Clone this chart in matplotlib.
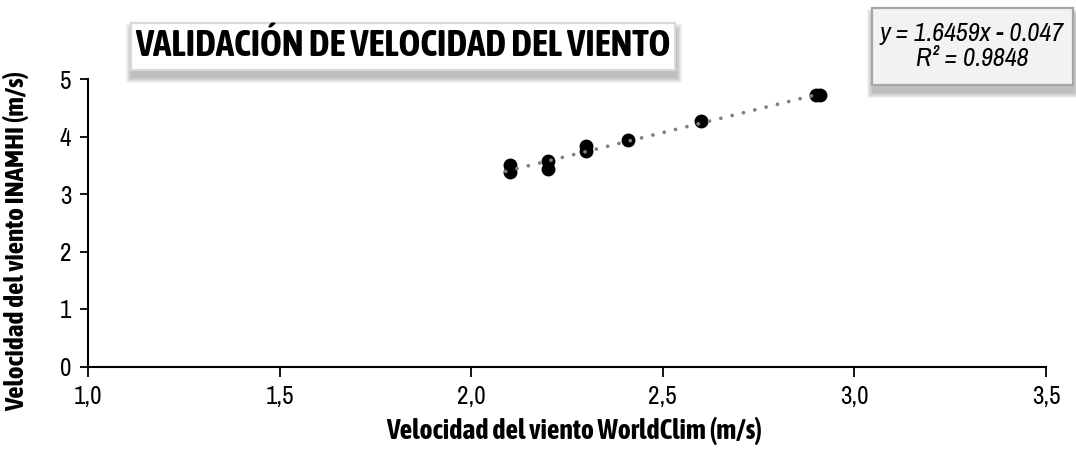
import matplotlib
matplotlib.use("Agg")
import matplotlib.pyplot as plt
from matplotlib import font_manager as fm
from matplotlib.patches import Rectangle
import numpy as np

# Wind speed pairs: WorldClim (x) vs INAMHI station (y), m/s
worldclim = [2.10, 2.10, 2.20, 2.20, 2.30, 2.30, 2.41, 2.60, 2.90, 2.91]
inamhi = [3.50, 3.38, 3.57, 3.44, 3.84, 3.74, 3.94, 4.27, 4.72, 4.72]

# Linear trend reported on the chart
slope = 1.6459
intercept = -0.047
r2 = 0.9848

x_ticks = [1.0, 1.5, 2.0, 2.5, 3.0, 3.5]
y_ticks = [0, 1, 2, 3, 4, 5]

title = "VALIDACIÓN DE VELOCIDAD DEL VIENTO"
x_label = "Velocidad del viento WorldClim (m/s)"
y_label = "Velocidad del viento INAMHI (m/s)"

WEIGHTS = {"thin": 100, "extralight": 200, "ultralight": 200, "light": 300,
           "normal": 400, "regular": 400, "book": 400, "medium": 500,
           "semibold": 600, "demibold": 600, "demi": 600, "bold": 700,
           "extrabold": 800, "heavy": 800, "ultrabold": 800, "black": 900}


def _weight_num(f):
    w = f.weight
    if isinstance(w, (int, float)):
        w = int(w)
    else:
        w = WEIGHTS.get(str(w).lower(), 400)
    low = (f.name + " " + f.fname).lower()
    for key, val in (("extrabold", 800), ("black", 900), ("semibold", 600),
                     ("extralight", 200), ("light", 300), ("medium", 500),
                     ("thin", 100)):
        if key in low:
            return val
    return w


def _width_rank(f):
    low = (f.name + " " + f.fname + " " + str(f.stretch)).lower()
    if "semicondensed" in low or "semi-condensed" in low:
        return 1
    if "extracondensed" in low or "extra-condensed" in low or "ultra" in low:
        return 3
    if "narrow" in low or "condensed" in low:
        return 0
    return None


def narrow_font(bold=False, italic=False, size=None):
    """Pick a narrow sans face (closest to a regular condensed cut) if installed."""
    want = 700 if bold else 400
    best, best_key = None, None
    for f in fm.fontManager.ttflist:
        rank = _width_rank(f)
        if rank is None or "mono" in f.name.lower() or "serif" in f.name.lower():
            continue
        it = f.style in ("italic", "oblique")
        if it != italic:
            continue
        key = (rank, abs(_weight_num(f) - want),
               0 if "Liberation" in f.name else 1, f.name)
        if best_key is None or key < best_key:
            best, best_key = f, key
    if best is not None:
        fp = fm.FontProperties(fname=best.fname)
    else:
        fp = fm.FontProperties(family="DejaVu Sans",
                               weight="bold" if bold else "normal",
                               style="italic" if italic else "normal")
    if size:
        fp.set_size(size)
    return fp


W, H = 1076, 449
fig = plt.figure(figsize=(W / 100, H / 100), dpi=100)
ax = fig.add_axes([88 / W, 1 - 366.5 / H, (1046 - 88) / W, (366.5 - 79) / H])

ax.scatter(worldclim, inamhi, s=100, color="black", zorder=3, linewidths=0)

xs = np.array([min(worldclim) - 0.01, max(worldclim)])
ax.plot(xs, slope * xs + intercept, color="#808080", lw=2.7,
        linestyle=(0, (0.01, 3.1)), dash_capstyle="round", zorder=4)

tick_fp = narrow_font(size=18)
ax.set_xlim(1.0, 3.5)
ax.set_ylim(0, 5)
ax.set_xticks(x_ticks, labels=[f"{v:.1f}".replace(".", ",") for v in x_ticks],
              fontproperties=tick_fp)
ax.set_yticks(y_ticks, labels=[str(v) for v in y_ticks], fontproperties=tick_fp)
ax.tick_params(direction="out", length=6, width=1.3, color="black")
ax.tick_params(axis="x", pad=6, length=7)
ax.tick_params(axis="y", pad=6)
for side in ("top", "right"):
    ax.spines[side].set_visible(False)
for side in ("left", "bottom"):
    ax.spines[side].set_linewidth(1.5)

bold_n = narrow_font(bold=True)
ital_n = narrow_font(italic=True)

xl = ax.set_xlabel(x_label, fontproperties=bold_n)
yl = ax.set_ylabel(y_label, fontproperties=bold_n)
ax.xaxis.set_label_coords((574.5 - 88) / 958, (366.5 - 417) / 287.5)
ax.yaxis.set_label_coords((29 - 88) / 958, (366.5 - 241) / 287.5)


def px_box(x0, y0, x1, y1, face, edge):
    """Boxed label with a soft drop shadow, given in pixel coords from top-left."""
    w, h = (x1 - x0) / W, (y1 - y0) / H
    for i in range(6):
        grow = (6 - i) * 1.0
        fig.patches.append(Rectangle(
            ((x0 + 1 - grow) / W, 1 - (y1 + 7 + grow) / H),
            w + 2 * grow / W, h + 2 * grow / H,
            transform=fig.transFigure, facecolor="#5f5f5f", alpha=0.08,
            edgecolor="none", zorder=1))
    fig.patches.append(Rectangle((x0 / W, 1 - y1 / H), w, h,
                                 transform=fig.transFigure, facecolor=face,
                                 edgecolor=edge, linewidth=1.6, zorder=2))


px_box(131, 23, 675, 70, "white", "#d9d9d9")
tt = fig.text(403 / W, 1 - 46.5 / H, title, ha="center", va="center",
              fontproperties=bold_n, zorder=5)

px_box(872, 8, 1073, 85, "#f2f2f2", "#a6a6a6")
eq = fig.text(972 / W, 1 - 46 / H,
              f"y = {slope}x - {abs(intercept)}\nR² = {r2}",
              ha="center", va="center", fontproperties=ital_n,
              linespacing=1.1, zorder=5)


def fit(text, target, vertical=False, max_size=None):
    """Scale a text's font size so its extent spans the target pixel length."""
    text.set_fontsize(20)
    r = fig.canvas.get_renderer()
    bb = text.get_window_extent(r)
    size = 20 * target / (bb.height if vertical else bb.width)
    if max_size:
        size = min(size, max_size)
    text.set_fontsize(size)
    return size


fig.canvas.draw()
fit(tt, 533, max_size=27)
fit(eq, 184, max_size=20)
fit(xl, 400, max_size=20)
fit(yl, 338, vertical=True, max_size=20)

fig.savefig("out.png", dpi=100)
